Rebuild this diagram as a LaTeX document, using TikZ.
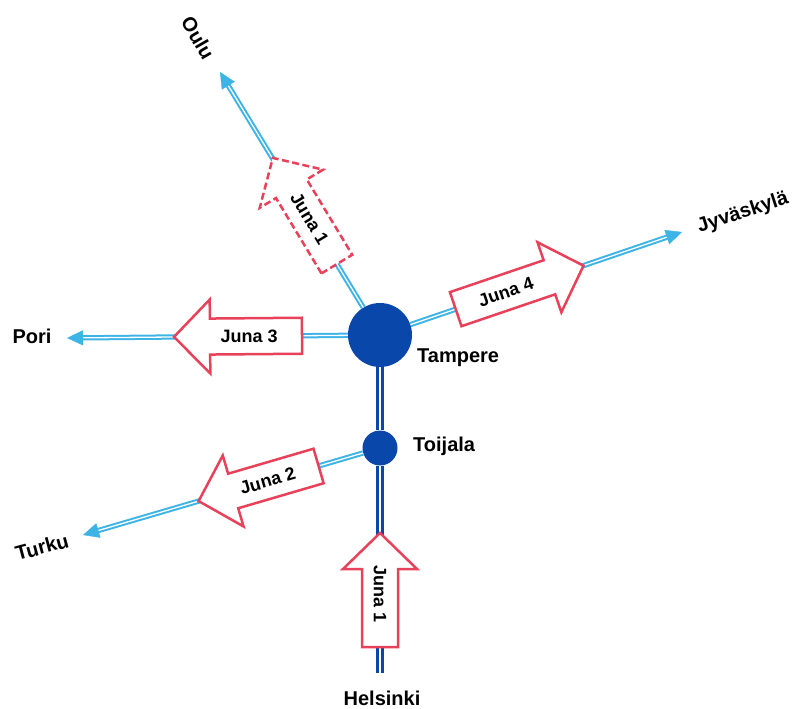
\documentclass[tikz,border=0pt]{standalone}
\usepackage{fontspec}
\setmainfont{Liberation Sans}
\usetikzlibrary{calc,arrows.meta}
\definecolor{railcyan}{HTML}{3DB4E5}
\definecolor{railblue}{HTML}{0A47AA}
\definecolor{junared}{HTML}{E8415A}
\tikzset{
  station/.style={circle, fill=railblue, inner sep=0pt},
  cyanrail/.style={draw=railcyan, double=white, line width=2pt, double distance=1.3pt, shorten >=10pt},
  bluerail/.style={draw=railblue, double=white, line width=2.7pt, double distance=2pt},
  railtip/.style={railcyan, line width=0.4pt, -{Triangle[length=16pt,width=15pt]}},
  place/.style={font=\bfseries\fontsize{20}{24}\selectfont, inner sep=0pt},
  juna/.style={draw=junared, line width=2.5pt, fill=white, line join=miter},
  junadash/.style={dash pattern=on 7pt off 3.5pt},
  junatext/.style={font=\bfseries\fontsize{18}{21}\selectfont, inner sep=0pt},
}
% #1 base, #2 angle, #3 length, #4 text rotation, #5 label, #6 extra style
\newcommand\trainarrow[6]{%
  \begin{scope}[shift={#1}, rotate=#2]
    \draw[juna,#6] (0,-18) -- ({#3-36},-18) -- ({#3-36},-37) -- (#3,0)
      -- ({#3-36},37) -- ({#3-36},18) -- (0,18) -- cycle;
    \node[junatext, rotate=#4] at (53,0) {#5};
  \end{scope}}
\begin{document}
\begin{tikzpicture}[x=1pt,y=-1pt]
\useasboundingbox (0,0) rectangle (793,709);
% stations and end points
\node[station, minimum size=64pt] (tam) at (380,335) {};
\node[station, minimum size=35pt] (toi) at (380,448) {};
\coordinate (oulu) at (220,72);
\coordinate (jyv) at (682,232);
\coordinate (pori) at (67,338);
\coordinate (turku) at (83,535);
\coordinate (helend) at (380,673);
% rails
\draw[bluerail] (tam) -- (toi);
\draw[bluerail] (toi) -- (helend);
\draw[cyanrail] (tam) -- (oulu);
\draw[cyanrail] (tam) -- (jyv);
\draw[cyanrail] (tam) -- (pori);
\draw[cyanrail] (toi) -- (turku);
\draw[railtip] ($(oulu)!16pt!(tam)$) -- (oulu);
\draw[railtip] ($(jyv)!16pt!(tam)$) -- (jyv);
\draw[railtip] ($(pori)!16pt!(tam)$) -- (pori);
\draw[railtip] ($(turku)!16pt!(toi)$) -- (turku);
% trains
\trainarrow{($(tam)!83pt!(oulu)$)}{121.1}{124}{-59}{Juna 1}{junadash}
\trainarrow{($(tam)!80pt!(jyv)$)}{18.8}{135}{18.8}{Juna 4}{}
\trainarrow{($(tam)!78pt!(pori)$)}{180.5}{128}{0}{Juna 3}{}
\trainarrow{($(toi)!64pt!(turku)$)}{196.3}{125}{16.3}{Juna 2}{}
\trainarrow{($(toi)!199pt!(helend)$)}{90}{114}{-90}{Juna 1}{}
% labels
\node[place, rotate=-60] (loulu) at (198,38) {Oulu};
\node[place, rotate=18] (ljyv) at (743,213) {Jyväskylä};
\node[place] (lpori) at (32,336) {Pori};
\node[place, rotate=15] (lturku) at (42,547) {Turku};
\node[place, anchor=west] (ltam) at (417,358) {Tampere};
\node[place, anchor=west] (ltoi) at (413,446) {Toijala};
\node[place] (lhel) at (382,698) {Helsinki};
\end{tikzpicture}
\end{document}
